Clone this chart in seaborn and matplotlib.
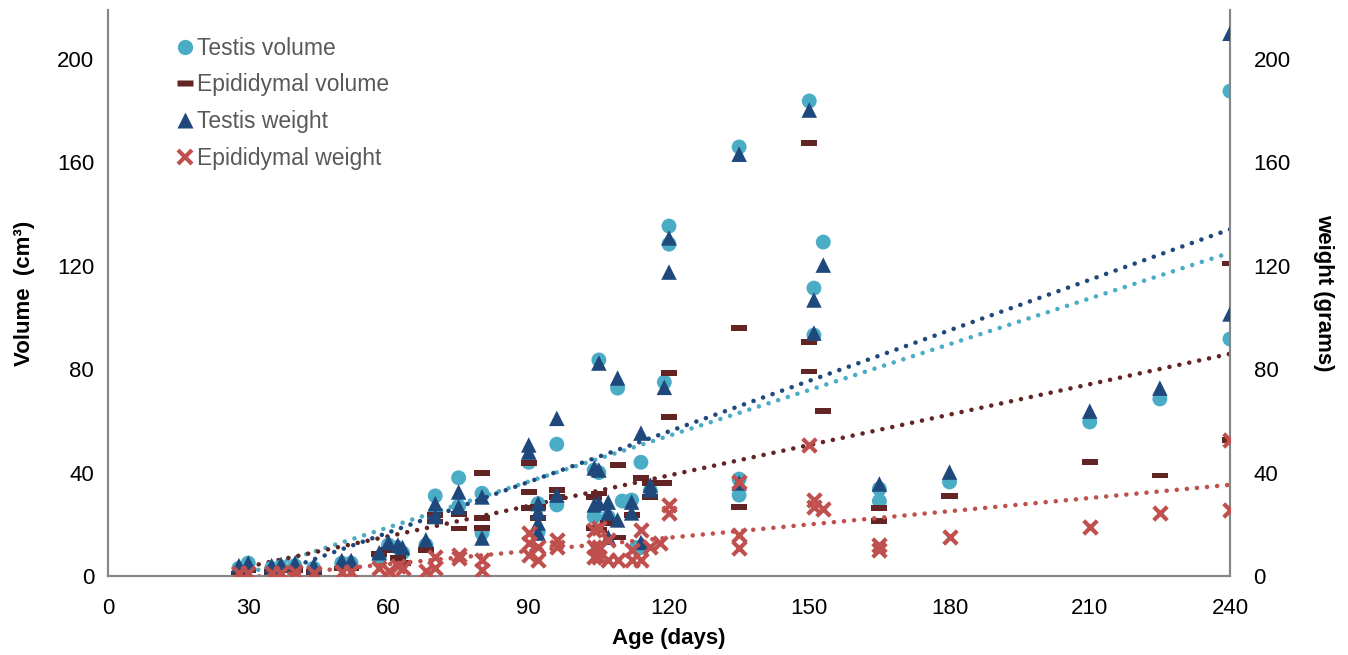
import numpy as np
import pandas as pd
import matplotlib
matplotlib.use("Agg")
import matplotlib.pyplot as plt
from matplotlib.path import Path
from matplotlib.lines import Line2D
import seaborn as sns

# testis volume (cm3)
tv_age = [28, 30, 35, 37, 40, 44, 50, 52, 58, 60, 62, 63, 68, 70, 70, 75, 75, 80, 80, 90, 92, 92,
          96, 96, 104, 104, 105, 105, 107, 109, 110, 112, 113, 114, 114, 116, 119, 120, 120,
          135, 135, 135, 150, 151, 151, 153, 165, 165, 180, 210, 225, 240, 240]
tv_val = [3, 5, 3, 3.5, 4, 3, 5, 5, 7, 12, 11, 9, 12, 31, 24, 38, 27, 32, 16.6, 44, 28, 17,
          51, 27.5, 41, 23, 83.6, 40, 22.8, 72.7, 29, 29.4, 11, 44, 11, 33, 75, 135.4, 128.4,
          166, 37.5, 31.3, 183.8, 111.4, 93.2, 129.2, 33.7, 29, 36.4, 59.6, 68.5, 187.6, 91.7]

# epididymal volume (cm3)
ev_age = [28, 30, 35, 37, 40, 44, 50, 52, 58, 60, 62, 63, 68, 70, 70, 75, 75, 80, 80, 80, 90, 90,
          90, 92, 92, 96, 96, 104, 104, 105, 105, 107, 109, 109, 112, 114, 116, 116, 120, 120,
          119, 135, 135, 150, 150, 150, 153, 165, 165, 180, 210, 225, 240, 240]
ev_val = [1, 2, 1.5, 2, 2, 1.5, 3, 3, 8.5, 10, 7, 5, 10, 23.6, 21, 24, 18.5, 39.8, 22.4, 18.6, 43.7, 32.5,
          26.3, 26.7, 22.4, 33.3, 30.6, 30.6, 18.6, 32, 17.8, 20.5, 42.9, 15, 23.6, 37.9, 36, 30.6, 78.5, 61.5,
          36, 96, 26.7, 167.5, 90.5, 79, 63.8, 26.3, 21.3, 31, 44.1, 39, 121, 52.6]

# testis weight (g)
tw_age = [28, 30, 35, 37, 40, 44, 50, 52, 58, 60, 62, 63, 68, 70, 70, 75, 75, 80, 80, 90, 90, 92,
          92, 92, 92, 96, 96, 104, 104, 105, 105, 105, 107, 107, 107, 109, 109, 112, 112, 114, 114,
          116, 116, 119, 120, 120, 135, 135, 150, 151, 151, 153, 165, 180, 210, 225, 240, 240]
tw_val = [4, 5, 4, 4.5, 5, 4, 6, 6, 9, 13, 12, 11, 14, 28, 23, 32.5, 26.7, 30.6, 14.7, 50.7, 48, 28,
          24.8, 20.5, 16.6, 61, 31.3, 41.8, 27.5, 82.4, 41, 28.2, 28.6, 24.4, 15, 76.6, 21.7, 28.6, 24.4, 55.3, 13,
          35.2, 33.3, 73, 130.8, 117.6, 163.2, 36, 180.3, 106.8, 94, 120.3, 35.6, 40.2, 63.8, 72.7, 210, 101.4]

# epididymal weight (g)
ew_age = [28, 30, 35, 37, 40, 44, 50, 52, 58, 60, 62, 63, 68, 70, 70, 75, 75, 80, 80, 90, 90, 90,
          92, 92, 96, 96, 104, 104, 104, 105, 105, 105, 107, 107, 109, 112, 112, 114, 114, 116, 118,
          120, 120, 135, 135, 135, 150, 151, 151, 153, 165, 165, 180, 210, 225, 240, 240]
ew_val = [1, 1, 1, 1, 1.5, 1, 1.5, 1.5, 3, 2, 4, 3, 2, 7.4, 3, 8, 7, 6, 2.3, 16.6, 12.8, 8,
          11.2, 6.2, 13.9, 11.2, 17.8, 11.2, 7.4, 18.6, 11.2, 7.4, 14, 6.2, 6.2, 10, 6.2, 17.8, 6.2, 11.2, 12.8,
          27.5, 24.4, 36.4, 15.9, 10.8, 50.7, 29.4, 26.7, 25.9, 12, 10, 15.1, 19, 24.4, 52.6, 25.5]

c_tv = "#4BACC6"
c_ev = "#632523"
c_tw = "#1F497D"
c_ew = "#C0504D"
grey = "#868686"

sns.set_style("white")
plt.rcParams["font.family"] = ["Liberation Sans", "DejaVu Sans"]

bar = Path([(-1, -0.33), (1, -0.33), (1, 0.33), (-1, 0.33), (-1, -0.33)],
           [Path.MOVETO, Path.LINETO, Path.LINETO, Path.LINETO, Path.CLOSEPOLY])

fig = plt.figure(figsize=(13.48, 6.55), dpi=100)
ax = fig.add_axes([108 / 1348, 79 / 655, 1122 / 1348, 566 / 655])
ax2 = ax.twinx()

df_tv = pd.DataFrame({"age": tv_age, "val": tv_val})
df_ev = pd.DataFrame({"age": ev_age, "val": ev_val})
df_tw = pd.DataFrame({"age": tw_age, "val": tw_val})
df_ew = pd.DataFrame({"age": ew_age, "val": ew_val})

dotted = dict(linestyle=(0, (0.01, 2.2)), linewidth=3.3, dash_capstyle="round")

# trend lines
sns.regplot(data=df_tv, x="age", y="val", ax=ax, scatter=False, ci=None,
            line_kws=dict(color=c_tv, zorder=2, **dotted))
sns.regplot(data=df_ev, x="age", y="val", ax=ax, scatter=False, ci=None,
            line_kws=dict(color=c_ev, zorder=2, **dotted))
sns.regplot(data=df_tw, x="age", y="val", ax=ax2, scatter=False, ci=None,
            line_kws=dict(color=c_tw, zorder=2, **dotted))
sns.regplot(data=df_ew, x="age", y="val", ax=ax2, scatter=False, ci=None,
            line_kws=dict(color=c_ew, zorder=2, **dotted))

# points
sns.scatterplot(data=df_tv, x="age", y="val", ax=ax, marker="o", s=115, color=c_tv,
                edgecolor="none", zorder=3)
sns.scatterplot(data=df_ev, x="age", y="val", ax=ax, marker=bar, s=135, color=c_ev,
                edgecolor="none", zorder=4)
sns.scatterplot(data=df_tw, x="age", y="val", ax=ax2, marker="^", s=125, color=c_tw,
                edgecolor="none", zorder=3)
sns.scatterplot(data=df_ew, x="age", y="val", ax=ax2, marker="x", s=95, color=c_ew,
                linewidth=3, zorder=4)

for a in (ax, ax2):
    a.set_xlim(0, 240)
    a.set_ylim(0, 219)
    a.set_yticks(range(0, 201, 40))
    a.tick_params(length=0, labelsize=16, labelcolor="black")
    a.spines["top"].set_visible(False)
    for s in ("left", "right", "bottom"):
        a.spines[s].set_color(grey)
        a.spines[s].set_linewidth(1.5)

ax.tick_params(axis="y", pad=10)
ax.tick_params(axis="x", pad=16)
ax2.tick_params(axis="y", pad=17)
ax.set_xticks(range(0, 241, 30))
ax.set_xlabel("Age (days)", fontsize=16, fontweight="bold", labelpad=6, color="black")
ax.set_ylabel("Volume  (cm³)", fontsize=16, fontweight="bold", labelpad=16, color="black")
ax2.set_ylabel("weight (grams)", fontsize=16, fontweight="bold", rotation=270, labelpad=31,
               color="black")

handles = [
    Line2D([], [], linestyle="none", marker="o", markersize=11, color=c_tv, markeredgecolor="none"),
    Line2D([], [], linestyle="none", marker=bar, markersize=12, color=c_ev, markeredgecolor="none"),
    Line2D([], [], linestyle="none", marker="^", markersize=11, color=c_tw, markeredgecolor="none"),
    Line2D([], [], linestyle="none", marker="x", markersize=10, color=c_ew, markeredgewidth=3),
]
labels = ["Testis volume", "Epididymal volume", "Testis weight", "Epididymal weight"]
leg = ax2.legend(handles, labels, loc="upper left", bbox_to_anchor=(0.053, 0.969), frameon=False,
                 fontsize=16.5, handlelength=0.7, handletextpad=0.2, labelspacing=0.6,
                 borderaxespad=0)
for t in leg.get_texts():
    t.set_color("#595959")

fig.savefig("out.png", dpi=100)
